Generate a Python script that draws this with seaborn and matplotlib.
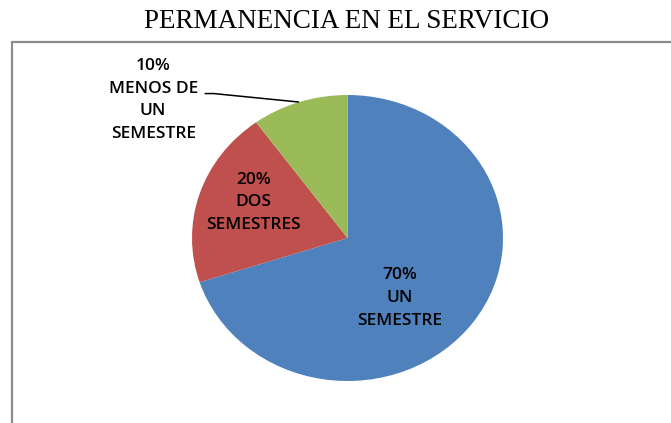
import matplotlib
matplotlib.use("Agg")
import matplotlib.pyplot as plt
import seaborn as sns
from matplotlib.patches import Rectangle

# data
categories = ["UN\nSEMESTRE", "DOS\nSEMESTRES", "MENOS DE\nUN\nSEMESTRE"]
values = [70, 20, 10]
colors = ["#4F81BD", "#C0504D", "#9BBB59"]
title = "PERMANENCIA EN EL SERVICIO"

sns.set_theme(style="white")
plt.rcParams["font.family"] = ["Open Sans", "DejaVu Sans"]

fig = plt.figure(figsize=(6.71, 4.23), dpi=100)

# frame around the chart area
fig.patches.append(Rectangle((12 / 671, -0.05), 1.1, 0.9007 + 0.05,
                             transform=fig.transFigure, fill=False,
                             edgecolor="#8c8c8c", linewidth=1.6))

fig.text(0.517, 0.95, title, ha="center", va="center",
         family="Liberation Serif", fontsize=19.5, color="black")

ax = fig.add_axes([192 / 671, 42 / 423, 311 / 671, 286 / 423])
ax.pie(values, colors=sns.color_palette(colors), startangle=90,
       counterclock=False, wedgeprops=dict(linewidth=0))
ax.set_aspect("auto")
ax.set_xlim(-1, 1)
ax.set_ylim(-1, 1)
ax.axis("off")

lbl = dict(ha="center", va="center", fontsize=12.5, weight="semibold",
           linespacing=1.56, color="black")
pos = [(0.334, -0.42), (-0.605, 0.25), (-1.25, 0.965)]
for (x, y), cat, v in zip(pos, categories, values):
    ax.text(x, y, f"{v}%\n{cat}", **lbl)

# leader line for the small slice
ax.plot([-0.915, -0.86, -0.315], [1.01, 1.01, 0.951], color="black",
        linewidth=1.1, clip_on=False)

fig.savefig("out.png", dpi=100)
